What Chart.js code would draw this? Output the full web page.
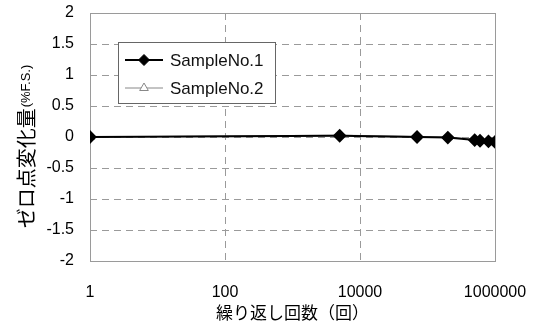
<!DOCTYPE html>
<html><head><meta charset="utf-8">
<script src="https://cdn.jsdelivr.net/npm/chart.js@4.4.0/dist/chart.umd.min.js"></script>
<style>html,body{margin:0;padding:0;background:#fff;}canvas{display:block;}</style>
</head><body>
<canvas id="c" width="539" height="327"></canvas>
<script>
const cycles = [1, 5000, 70000, 200000, 500000, 600000, 800000, 1000000];
const sample1 = [0, 0.02, 0.0, -0.01, -0.05, -0.06, -0.07, -0.08];
const sample2 = [0, 0.03, 0.01, 0.0, -0.04, -0.05, -0.06, -0.07];
const seriesNames = ['SampleNo.1', 'SampleNo.2'];
const xTickValues = [1, 100, 10000, 1000000];
const yMin = -2, yMax = 2, yStep = 0.5;
const xTitle = '繰り返し回数（回）';
const yTitleMain = 'ゼロ点変化量';
const yTitleUnit = '(%F.S.)';

const LATIN = '"Liberation Sans", Arial, sans-serif';
const CJK = '"Noto Sans CJK JP", sans-serif';

const toPts = (ys) => cycles.map((x, i) => ({x: x, y: ys[i]}));

const decor = {
  id: 'decor',
  beforeDatasetsDraw(chart) {
    const {ctx, chartArea: a} = chart;
    ctx.save();
    ctx.strokeStyle = '#9a9a9a';
    ctx.lineWidth = 1;
    ctx.setLineDash([]);
    ctx.strokeRect(Math.round(a.left) + 0.5, Math.round(a.top) + 0.5,
                   Math.round(a.right - a.left), Math.round(a.bottom - a.top));
    ctx.restore();
  },
  afterDraw(chart) {
    const {ctx, chartArea: a} = chart;
    // Y axis title (mixed sizes)
    ctx.save();
    ctx.translate(26, (a.top + a.bottom) / 2 + 10);
    ctx.rotate(-Math.PI / 2);
    ctx.fillStyle = '#000';
    ctx.textBaseline = 'middle';
    ctx.font = '20px ' + CJK;
    const w1 = ctx.measureText(yTitleMain).width;
    ctx.font = '13px ' + LATIN;
    const w2 = ctx.measureText(yTitleUnit).width;
    const start = -(w1 + w2) / 2;
    ctx.font = '20px ' + CJK;
    ctx.textAlign = 'left';
    ctx.fillText(yTitleMain, start, 0);
    ctx.font = '13px ' + LATIN;
    ctx.fillText(yTitleUnit, start + w1 + 1, 0);
    ctx.restore();

    // Legend box
    const bx = a.left + 28, by = a.top + 29, bw = 157, bh = 61;
    ctx.save();
    ctx.fillStyle = '#fff';
    ctx.fillRect(bx, by, bw, bh);
    ctx.strokeStyle = '#666';
    ctx.lineWidth = 1;
    ctx.strokeRect(Math.round(bx) + 0.5, Math.round(by) + 0.5, bw, bh);
    chart.data.datasets.forEach((ds, i) => {
      const cy = by + 18 + i * 28;
      const x1 = bx + 7, x2 = bx + 45, mx = (x1 + x2) / 2;
      ctx.strokeStyle = ds.borderColor;
      ctx.lineWidth = ds.borderWidth;
      ctx.beginPath(); ctx.moveTo(x1, cy); ctx.lineTo(x2, cy); ctx.stroke();
      ctx.fillStyle = ds.pointBackgroundColor;
      ctx.strokeStyle = ds.pointBorderColor;
      ctx.lineWidth = 1;
      Chart.helpers.drawPoint(ctx, {pointStyle: ds.pointStyle, radius: ds.pointRadius, rotation: 0, borderWidth: 1}, mx, cy);
      ctx.fillStyle = '#111';
      ctx.font = '17px ' + LATIN;
      ctx.textAlign = 'left';
      ctx.textBaseline = 'middle';
      ctx.fillText(ds.label, bx + 52, cy + 1);
    });
    ctx.restore();
  }
};

new Chart(document.getElementById('c'), {
  type: 'line',
  data: {
    datasets: [
      {
        label: seriesNames[0],
        data: toPts(sample1),
        borderColor: '#000',
        borderWidth: 2,
        pointStyle: 'rectRot',
        pointRadius: 5.5,
        pointBackgroundColor: '#000',
        pointBorderColor: '#000',
        tension: 0
      },
      {
        label: seriesNames[1],
        data: toPts(sample2),
        borderColor: '#888',
        borderWidth: 1,
        pointStyle: 'triangle',
        pointRadius: 5,
        pointBackgroundColor: '#fff',
        pointBorderColor: '#888',
        tension: 0
      }
    ]
  },
  options: {
    responsive: false,
    animation: false,
    layout: {padding: {top: 13, right: 44, left: 0, bottom: 0}},
    plugins: {legend: {display: false}, tooltip: {enabled: false}},
    scales: {
      x: {
        type: 'logarithmic',
        min: 1, max: 1000000,
        afterBuildTicks: (s) => { s.ticks = xTickValues.map(v => ({value: v})); },
        afterFit: (s) => { s.height = 66; s.paddingLeft = 0; s.paddingRight = 0; },
        ticks: {
          autoSkip: false, maxRotation: 0, padding: 22,
          color: '#000', font: {family: LATIN, size: 16},
          callback: (v) => String(v)
        },
        grid: {
          drawTicks: false,
          color: (c) => (c.tick && (c.tick.value === 1 || c.tick.value === 1000000)) ? 'rgba(0,0,0,0)' : '#9a9a9a'
        },
        border: {display: false, dash: [7, 5]},
        title: {display: true, text: xTitle, color: '#000', font: {family: CJK, size: 17}, padding: {top: 0, bottom: 4}}
      },
      y: {
        type: 'linear',
        min: yMin, max: yMax,
        afterFit: (s) => { s.width = 90; s.paddingTop = 0; s.paddingBottom = 0; },
        ticks: {stepSize: yStep, padding: 16, color: '#000', font: {family: LATIN, size: 16},
          callback: (v) => String(v)},
        grid: {
          drawTicks: false,
          color: (c) => (c.tick && (c.tick.value === yMin || c.tick.value === yMax)) ? 'rgba(0,0,0,0)' : '#9a9a9a'
        },
        border: {display: false, dash: [7, 5]}
      }
    }
  },
  plugins: [decor]
});
</script>
</body></html>
